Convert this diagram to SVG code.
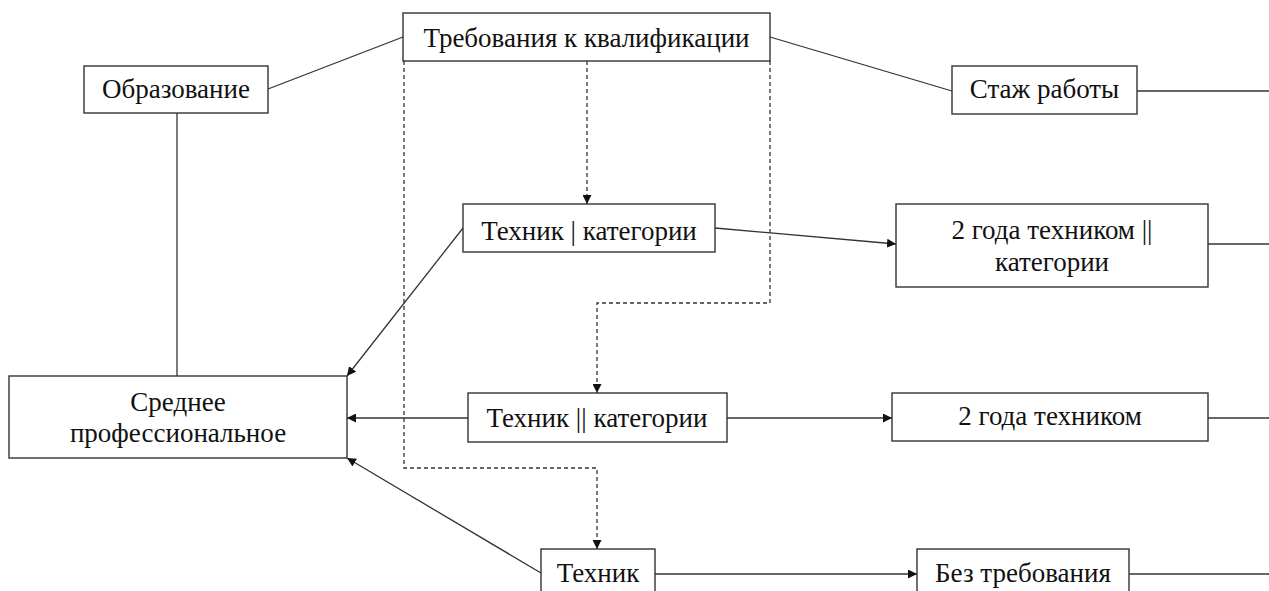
<svg xmlns="http://www.w3.org/2000/svg" width="1269" height="591" viewBox="0 0 1269 591">
<style>
.box{fill:#fff;stroke:#333;stroke-width:1.4}
.t{font-family:"Liberation Serif","Times New Roman",serif;font-size:27px;fill:#111;text-anchor:middle}
.c{fill:none;stroke:#333;stroke-width:1.3}
.d{fill:none;stroke:#333;stroke-width:1.3;stroke-dasharray:4 3}
</style>
<defs>
<marker id="ah" viewBox="0 0 10 10" refX="10" refY="5" markerWidth="9" markerHeight="9" markerUnits="userSpaceOnUse" orient="auto">
<path d="M0,0 L10,5 L0,10 z" fill="#111"/>
</marker>
</defs>
<rect width="1269" height="591" fill="#fff"/>
<g id="connectors">
<line class="c" x1="268" y1="89" x2="403" y2="37"/>
<line class="c" x1="770" y1="37" x2="952" y2="91"/>
<line class="c" x1="1137" y1="91" x2="1269" y2="91"/>
<line class="c" x1="177" y1="113" x2="177" y2="376"/>
<polyline class="d" points="587,61 587,204" marker-end="url(#ah)"/>
<polyline class="d" points="770,61 770,303 597,303 597,393" marker-end="url(#ah)"/>
<polyline class="d" points="404,61 404,468 597,468 597,549" marker-end="url(#ah)"/>
<line class="c" x1="463" y1="228" x2="347" y2="376" marker-end="url(#ah)"/>
<line class="c" x1="715" y1="228" x2="896" y2="244" marker-end="url(#ah)"/>
<line class="c" x1="1208" y1="244" x2="1269" y2="244"/>
<line class="c" x1="468" y1="418" x2="347" y2="418" marker-end="url(#ah)"/>
<line class="c" x1="727" y1="418" x2="892" y2="418" marker-end="url(#ah)"/>
<line class="c" x1="1208" y1="418" x2="1269" y2="418"/>
<line class="c" x1="541" y1="573" x2="347" y2="458" marker-end="url(#ah)"/>
<line class="c" x1="655" y1="574" x2="917" y2="574" marker-end="url(#ah)"/>
<line class="c" x1="1129" y1="574" x2="1269" y2="574"/>
</g>
<g id="n-treb"><rect class="box" x="403" y="13" width="367" height="48"/><text class="t" x="586.5" y="47">Требования к квалификации</text></g>
<g id="n-obr"><rect class="box" x="84" y="66" width="184" height="47"/><text class="t" x="176" y="98">Образование</text></g>
<g id="n-stazh"><rect class="box" x="952" y="66" width="185" height="48"/><text class="t" x="1044.5" y="98">Стаж работы</text></g>
<g id="n-tech1"><rect class="box" x="463" y="204" width="252" height="48"/><text class="t" x="589" y="240">Техник | категории</text></g>
<g id="n-2g1"><rect class="box" x="896" y="204" width="312" height="83"/><text class="t" x="1052" y="239">2 года техником ||</text><text class="t" x="1052" y="271">категории</text></g>
<g id="n-sred"><rect class="box" x="9" y="376" width="338" height="82"/><text class="t" x="178" y="411">Среднее</text><text class="t" x="178" y="442">профессиональное</text></g>
<g id="n-tech2"><rect class="box" x="468" y="393" width="259" height="49"/><text class="t" x="597" y="427">Техник || категории</text></g>
<g id="n-2g"><rect class="box" x="892" y="393" width="316" height="48"/><text class="t" x="1050" y="425">2 года техником</text></g>
<g id="n-tech"><rect class="box" x="541" y="549" width="114" height="60"/><text class="t" x="598" y="582">Техник</text></g>
<g id="n-bez"><rect class="box" x="917" y="549" width="212" height="60"/><text class="t" x="1023" y="582">Без требования</text></g>
</svg>
